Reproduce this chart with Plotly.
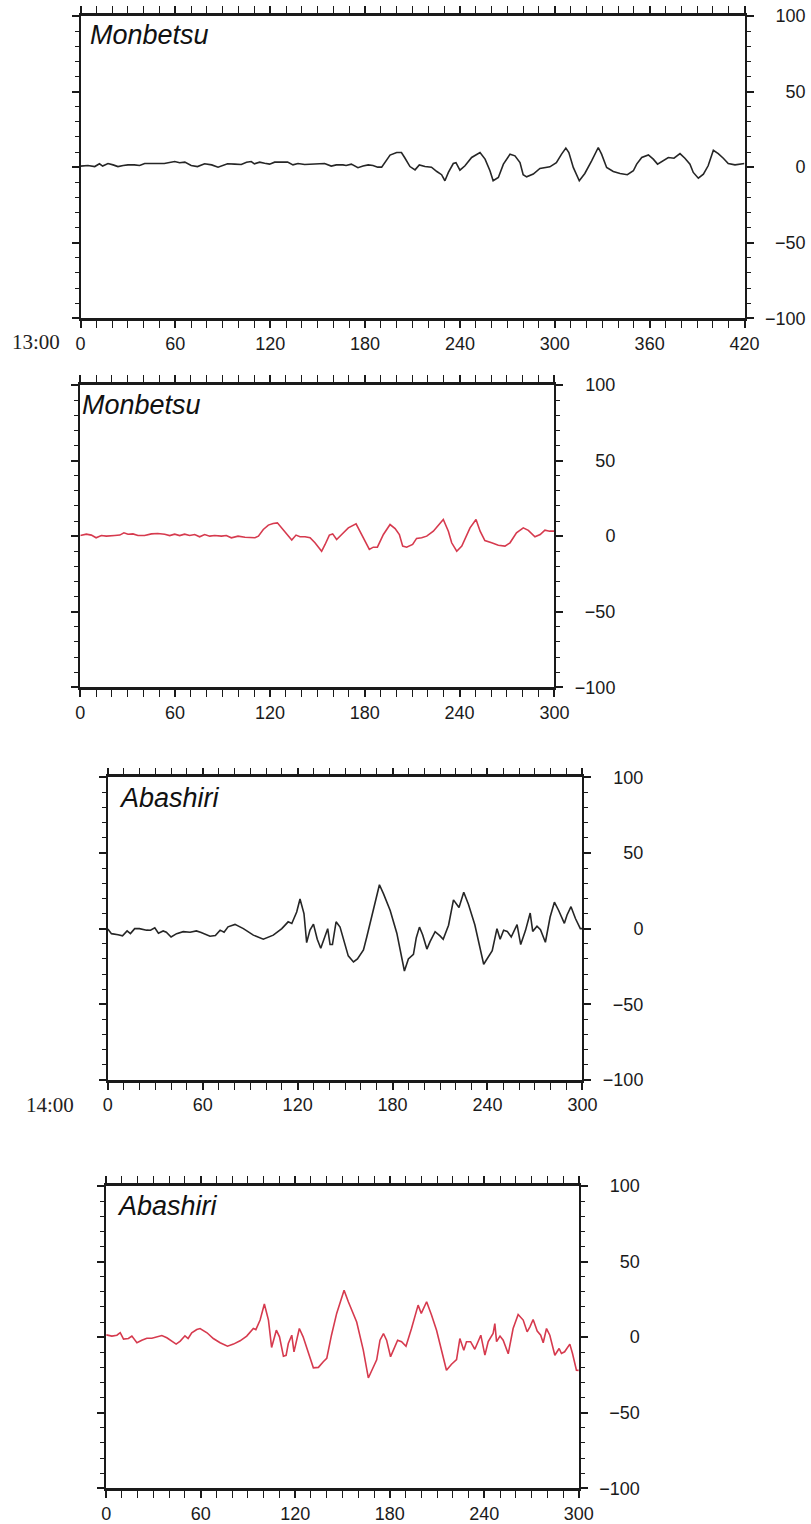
import plotly.graph_objects as go

W, H = 811, 1524

# ---------------- data ----------------
# Panel 1: Monbetsu (13:00), black, minutes 0-420
mon1_t = [0, 4.7, 9, 12, 14, 17.4, 20.6, 23.7, 27, 30,
          34, 37.4, 40.6, 45, 49, 53, 56, 59.6, 62.7, 66,
          70, 74, 78.5, 83, 87, 90, 93, 97.5, 101.7, 105,
          108, 110, 113.3, 116.5, 119.6, 122.8, 127, 131, 134.4, 137.6,
          141.8, 146, 150, 154.4, 158.6, 161.8, 166, 168, 171.3, 175.5,
          178.7, 182, 185, 188, 190.5, 192.6, 195.8, 200, 203, 205,
          208.4, 211.6, 214.3, 217.9, 222, 225.4, 228.4, 230.5, 232.7, 235.8,
          237.5, 240, 243.2, 247.4, 252.7, 255.9, 259, 261, 264.3, 267.5,
          271.7, 274.8, 278, 280, 282.2, 286.4, 290.6, 296.9, 301, 304.3,
          307, 308.9, 311.7, 315.5, 319, 323.3, 327.5, 329.6, 332.8, 337,
          341.3, 345.9, 349.7, 351.8, 355, 359.2, 362.3, 365, 368.7, 371.8,
          375.4, 379.2, 382.3, 385.5, 387.6, 390.8, 394, 397, 400.3, 403.4,
          406.6, 409.7, 414, 417, 420]
mon1_v = [0.7, 1.1, 0.4, 2.2, 0.7, 2.4, 1.5, 0.4, 1.1, 1.5,
          1.5, 1.1, 2.4, 2.2, 2.4, 2.4, 2.9, 3.7, 2.9, 3.3,
          1.1, 0.4, 2.2, 1.5, 0, 1.1, 2.2, 2, 1.8, 3.3,
          3.7, 2.2, 3.3, 2.6, 2, 3.3, 3.3, 3.3, 1.5, 2.4,
          1.8, 2, 2.4, 2.4, 0.7, 1.5, 1.5, 1.1, 2, -0.4,
          0.7, 1.5, 1.1, 0, 0, 3, 8, 9.7, 9.7, 6.4,
          0.4, -1.8, 1.5, 0.4, 0, -2.9, -5, -9, -3.5, 2.4,
          3, -2, 0.9, 6.4, 9.7, 5.3, -2.4, -9, -6.8, 2,
          8.6, 7.5, 3, -5, -6.4, -4.6, -0.9, 0.2, 3, 8.6,
          12.6, 9.7, -0.2, -9, -4.2, 4.2, 13, 8.6, -0.2, -2.9,
          -4.2, -5, -2.4, 2, 6.4, 8.1, 5.3, 2, 4.2, 6.4,
          5.9, 9, 5.9, 2, -3.5, -7.3, -4.6, 0.9, 11.2, 9,
          5.9, 2.4, 1.5, 2, 2.4]

# Panel 2: Monbetsu, red, minutes 0-300
mon2_t = [0, 3.8, 7, 10, 13.3, 16.5, 21.8, 25, 27.6, 30.2,
          33.3, 36.5, 40.7, 45, 49, 53.4, 56.6, 59.7, 62.9, 66,
          69.2, 72.4, 75.5, 78.7, 81.9, 85, 89.3, 92.4, 95.6, 99.8,
          104.2, 107.4, 110.5, 112.7, 115.8, 119, 122, 124.7, 127.4, 130.6,
          133.8, 136.5, 139, 142.2, 145.4, 148.5, 152.7, 154.9, 157.6, 159.7,
          162.2, 165.4, 169.6, 174.5, 177, 180.2, 182.9, 185.4, 188, 191.8,
          196, 199.2, 201.9, 204, 206.5, 210.3, 212.8, 216, 219.2, 223.4,
          227.6, 229.7, 232.9, 235, 238.2, 241.4, 246.6, 250.4, 253, 256,
          260.3, 264.5, 268.7, 271.9, 276, 280.3, 283.5, 287.7, 291, 294,
          297, 300]
mon2_v = [0.4, 1.3, 0.7, -1.1, 0.4, 0, 0.4, 0.7, 2.2, 1.3,
          1.5, 0.4, 0.4, 1.5, 1.8, 1.3, 0.4, 1.3, 0.4, 1.3,
          0.4, 1.1, -0.4, 1.1, 0, 0.4, 0, 0.4, -1.1, 0,
          -0.7, -1.1, -1.1, 0, 4.4, 7.3, 8.4, 8.8, 5.5, 1.1,
          -2.6, 0.7, -0.4, -0.4, -1.1, -4.4, -10, -5.5, 0.7, 1.5,
          -2.2, 1.1, 5.5, 8.2, 3.3, -3.3, -8.8, -7.3, -7.3, 1.1,
          7.7, 5, 1.1, -6.6, -7.3, -5.5, -1.5, -1.1, 0, 3.3,
          8.8, 11, 3.3, -4.4, -10, -6.6, 5.5, 11, 3.3, -2.9,
          -4.4, -6, -6.6, -4.4, 2.2, 5.5, 3.8, -0.4, 1.1, 4,
          3.3, 3.3]

# Panel 3: Abashiri (14:00), black, minutes 0-300
aba1_t = [0, 2.3, 6.5, 9.3, 12.2, 14.3, 17, 20, 24.5, 27,
          29.7, 32, 35, 37, 40, 43.5, 47.7, 52, 56, 59,
          64.6, 68, 71, 73.5, 76, 80.4, 85.7, 92, 98.3, 104.6,
          110, 114, 116.3, 119.4, 121.5, 124, 125.7, 127.8, 130, 132.4,
          134.6, 136.7, 139, 140.5, 142, 144.3, 146.8, 152, 155.3, 157.8,
          161.6, 163.7, 168, 171.7, 174.3, 178.5, 182.7, 187.5, 190, 193.2,
          195, 197, 199, 201.7, 203.7, 206.9, 210, 212, 215.4, 218.5,
          222, 225, 228, 232, 237.6, 240.7, 243, 246, 248, 250.2,
          252.5, 255, 258.7, 261, 264, 267, 268.6, 271.3, 273.5, 276.6,
          279.6, 282.3, 285, 288.6, 290.3, 292.8, 295.6, 298.7, 300]
aba1_v = [-0.3, -3.3, -4, -4.7, -1.5, -3.3, 0, 0, -1, -1.1,
          0.5, -3, -1.5, -2.4, -5.5, -3.3, -2, -2.4, -1.5, -2.5,
          -5, -4.6, -1, -2.4, 1.2, 2.8, 0, -4.3, -7, -4.3,
          0, 4.5, 3.4, 11, 19.6, 10, -9.2, -1, 3, -7,
          -13, -7.4, 0, -10.5, -10.5, 4.5, 1, -18, -22, -20,
          -14, -5.5, 12, 29, 23, 12, -3, -28, -20, -17,
          -6, 1, -4, -13.5, -8.6, -2, -4.8, -7, 2.3, 19,
          14, 24, 16, 2.6, -23.5, -18.6, -14.5, 0, -7, -1,
          -1.8, -5.5, 2.6, -10.5, -1.3, 10.3, -1.8, 1.6, -0.7, -9,
          7.7, 17.5, 12, 3.5, 9, 14.5, 6.7, 0, 0]

# Panel 4: Abashiri, red, minutes 0-300
aba2_t = [0, 3.6, 6.8, 8.9, 11, 14.1, 16.3, 19.5, 22.6, 25.8,
          29, 32, 35.3, 38.5, 41.6, 44.4, 47, 50, 52, 54.3,
          57.5, 59.6, 64, 68, 72.3, 77, 80.8, 85, 89.2, 93.4,
          95, 97.7, 100.4, 103, 105, 108, 110, 112.5, 114.2, 115.6,
          117.8, 119.2, 122.6, 125, 131.5, 134.7, 137.8, 140, 143, 146.3,
          151, 153.7, 159, 163.2, 166.4, 168.5, 171.7, 173.8, 176, 178,
          180.5, 182.3, 185, 187.5, 190.3, 193.8, 198, 200, 203.4, 206.5,
          209.7, 216, 219.2, 222.4, 224.5, 227, 228.7, 231.3, 234, 237.8,
          240.4, 242.5, 245.6, 246.7, 247.8, 250, 252, 255.2, 258.3, 261.5,
          264.7, 267.2, 269, 271, 273.6, 275.8, 277.4, 279.5, 281.6, 284.8,
          287.5, 289, 291, 294.3, 296, 298.5, 300]
aba2_v = [1.5, 0.7, 1.3, 3, -1.3, -0.9, 0.7, -3.7, -2, -0.7,
          -0.7, 0.2, 1.1, -0.4, -2.4, -4.6, -2.6, 0.9, -0.9, 2.9,
          5, 5.7, 2.9, -0.9, -3.7, -6, -4.6, -2.4, 0.7, 5.7,
          5, 11.3, 21.9, 11.3, -6.8, 4.6, 0.2, -12.6, -12, -4.2,
          1.3, -9.7, 5.7, 0.2, -20.3, -20, -16.3, -14, 1.3, 15.7,
          31, 23.4, 10, -8.6, -27, -21.8, -15, -2, 2.4, -2,
          -13, -8.6, -2, -3, -6, 5.7, 21.2, 15.7, 23.4, 14.6,
          4.6, -21.9, -17.9, -14.8, -0.9, -8.6, -3, -3, -8, 1.3,
          -11.9, -3, 2.4, 9, -3, 0.7, -2, -11, 5.7, 15,
          11.3, 3.5, 6.8, 11.7, 4, 1.3, -3.7, 5.7, 1.3, -12,
          -7.5, -10.8, -9.7, -4.6, -10.8, -21.9, -22]

station_names = ["Monbetsu", "Monbetsu", "Abashiri", "Abashiri"]
x_max = [420, 300, 300, 300]
x_major_ticks = [[0, 60, 120, 180, 240, 300, 360, 420],
                 [0, 60, 120, 180, 240, 300],
                 [0, 60, 120, 180, 240, 300],
                 [0, 60, 120, 180, 240, 300]]
y_ticks = [-100, -50, 0, 50, 100]
y_tick_labels = ["\u2212100", "\u221250", "0", "50", "100"]
time_labels = ["13:00", "14:00"]

series_t = [mon1_t, mon2_t, aba1_t, aba2_t]
series_v = [mon1_v, mon2_v, aba1_v, aba2_v]
for a, b in zip(series_t, series_v):
    assert len(a) == len(b), (len(a), len(b))

# ---------------- layout geometry (pixels) ----------------
panels_px = [  # left, right, top, bottom
    (80.5, 744.5, 16, 318.3),
    (80.3, 554.4, 385, 687.3),
    (107.8, 582.4, 777.3, 1080),
    (106.2, 578.8, 1186, 1488.3),
]
line_colors = ["#262626", "#d63a4e", "#262626", "#d63a4e"]
title_offsets = [(7, 19), (0, 20), (9, 21), (9, 20)]
LABEL_RIGHT = 58  # right edge of y tick labels, px right of the frame

def px(x):
    return x / W

def py(y):
    return 1 - y / H

fig = go.Figure()
layout = dict(
    width=W, height=H,
    margin=dict(l=0, r=0, t=0, b=0, autoexpand=False),
    paper_bgcolor="white", plot_bgcolor="white",
    showlegend=False,
    annotations=[],
)

ink = "#1a1a1a"
tick_font = dict(family="Liberation Sans, Arial, sans-serif", size=18, color=ink)

for i in range(4):
    n = i + 1
    xa = "xaxis" if n == 1 else f"xaxis{n}"
    ya = "yaxis" if n == 1 else f"yaxis{n}"
    xr = "x" if n == 1 else f"x{n}"
    yr = "y" if n == 1 else f"y{n}"
    lab_n = n + 4
    lab_ya = f"yaxis{lab_n}"
    lab_yr = f"y{lab_n}"
    L, R, T, B = panels_px[i]
    fig.add_trace(go.Scatter(
        x=series_t[i], y=series_v[i], mode="lines",
        line=dict(color=line_colors[i], width=1.6),
        xaxis=xr, yaxis=yr, hoverinfo="skip",
    ))
    # empty trace so the label axis is created on the same subplot
    fig.add_trace(go.Scatter(x=[], y=[], mode="lines", xaxis=xr, yaxis=lab_yr,
                             hoverinfo="skip"))
    layout[xa] = dict(
        domain=[px(L), px(R)], anchor=yr, range=[0, x_max[i]],
        tickmode="array", tickvals=x_major_ticks[i],
        ticks="outside", ticklen=7, tickwidth=1.5, tickcolor=ink,
        showline=True, linewidth=2.5, linecolor=ink, mirror="allticks",
        showgrid=False, zeroline=False, tickfont=tick_font,
        minor=dict(tickmode="linear", tick0=0, dtick=10, ticks="outside",
                   ticklen=4, tickwidth=1, tickcolor=ink, showgrid=False),
        fixedrange=True,
    )
    layout[ya] = dict(
        domain=[py(B), py(T)], anchor=xr, range=[-100, 100], side="right",
        tickmode="array", tickvals=y_ticks, showticklabels=False,
        ticks="outside", ticklen=7, tickwidth=1.5, tickcolor=ink,
        showline=True, linewidth=2, linecolor=ink, mirror="allticks",
        showgrid=False, zeroline=False,
        minor=dict(tickmode="linear", tick0=0, dtick=10, ticks="outside",
                   ticklen=4, tickwidth=1, tickcolor=ink, showgrid=False),
        fixedrange=True,
    )
    # right-aligned value labels: a label-only axis overlaying the panel
    layout[lab_ya] = dict(
        overlaying=yr, anchor="free", position=px(R + LABEL_RIGHT + 3), side="left",
        range=[-100, 100], tickmode="array", tickvals=y_ticks, ticktext=y_tick_labels,
        ticks="", showline=False, showgrid=False, zeroline=False,
        tickfont=tick_font, fixedrange=True,
    )
    dx, dy = title_offsets[i]
    layout["annotations"].append(dict(
        x=px(L + dx), y=py(T + dy), xref="paper", yref="paper",
        xanchor="left", yanchor="middle", showarrow=False,
        text=f"<i>{station_names[i]}</i>",
        font=dict(family="Liberation Sans, Arial, sans-serif", size=27, color="#111111"),
    ))

# time-of-day labels left of the x axes of panels 1 and 3
for label, (cx, cy) in zip(time_labels, [(36, 342), (50, 1105)]):
    layout["annotations"].append(dict(
        x=px(cx), y=py(cy), xref="paper", yref="paper",
        xanchor="center", yanchor="middle", showarrow=False, text=label,
        font=dict(family="Liberation Serif, Times New Roman, serif", size=21, color="#222222"),
    ))

fig.update_layout(**layout)
fig.write_html("out.html", config={"displayModeBar": False},
               post_script="document.body.style.margin='0';")
